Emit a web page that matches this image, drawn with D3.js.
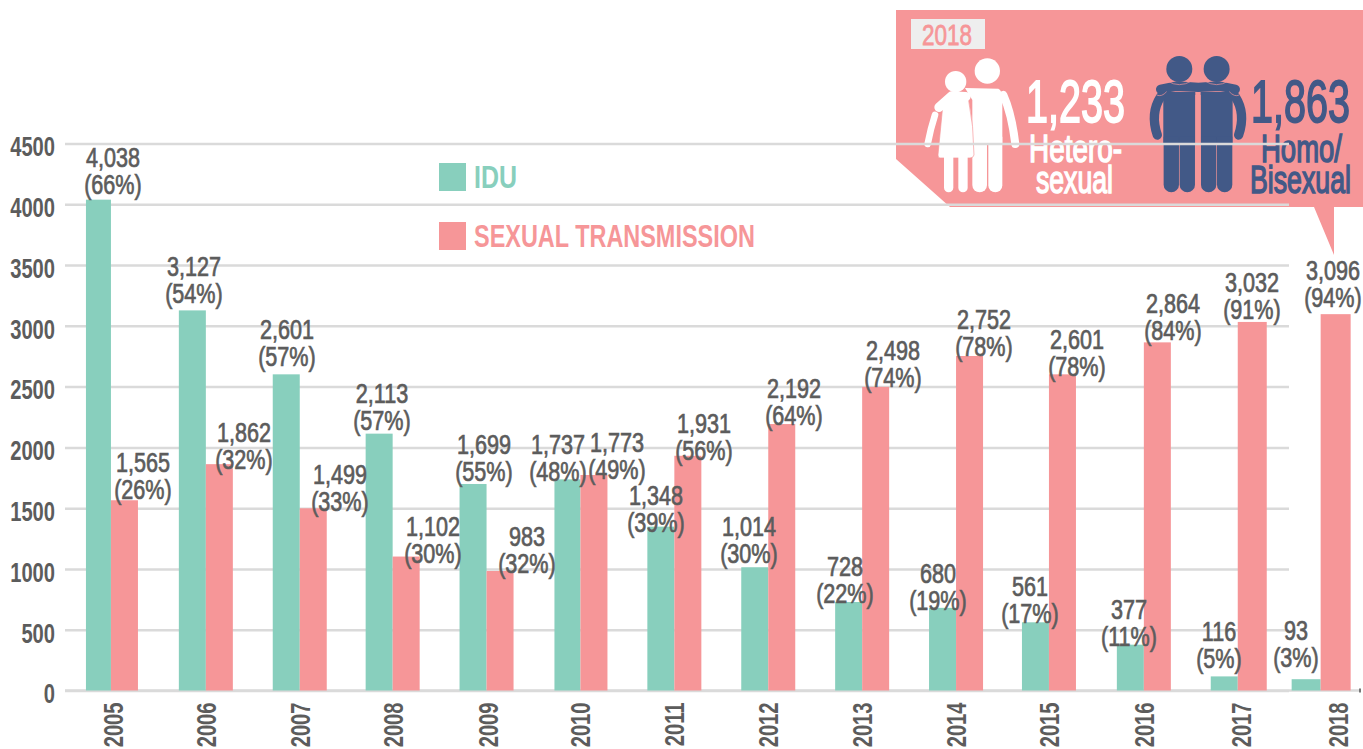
<!DOCTYPE html>
<html>
<head>
<meta charset="utf-8">
<script src="https://cdn.jsdelivr.net/npm/d3@7"></script>
<style>
  html, body { margin: 0; padding: 0; background: #fff; }
  svg { display: block; }
  text { font-family: "Liberation Sans", sans-serif; }
</style>
</head>
<body>
<svg id="chart" width="1363" height="749"></svg>
<script>
const years = ["2005","2006","2007","2008","2009","2010","2011","2012","2013","2014","2015","2016","2017","2018"];
const idu = [4038,3127,2601,2113,1699,1737,1348,1014,728,680,561,377,116,93];
const iduPct = [66,54,57,57,55,48,39,30,22,19,17,11,5,3];
const sexual = [1565,1862,1499,1102,983,1773,1931,2192,2498,2752,2601,2864,3032,3096];
const sexualPct = [26,32,33,30,32,49,56,64,74,78,78,84,91,94];
const yTicks = [0,500,1000,1500,2000,2500,3000,3500,4000,4500];
const seriesNames = ["IDU","SEXUAL TRANSMISSION"];

const TEAL = "#88cfbd", PINK = "#f69698", BLUE = "#425987", GREY = "#5c5c5c", GRID = "#dadada";

// hand placed label centres in the original, given as nudges from the bar centre / bar top
const iduNudgeX = [15.5,1.6,0.7,2.8,10.9,-9,-4.9,-5.8,-3.7,-4.6,-5.5,-1.4,-5.3,-11.2];
const iduNudgeY = [-3,-4,-5,-1,0,5,8,-1,4,5,4,4,-5,-9];
const sexNudgeX = [18.5,24.6,26.7,26.8,26.9,23,16.1,12.2,17.3,14.4,14.5,15.6,0.7,-1.2];
const sexNudgeY = [2,8,6,9,5,7,7,4,3,3,5,1,0,-4];
// the groups drift a little from the regular step, the last one most
const groupShift = [0,1,1,0,0,0,0,0,0,0,-1,0,0,-11];
const iduExtra = [-2,0,0,0,0,-1,0,0,0,0,0,0,0,2];
const sexExtra = [0,0,0,0,0,0,0,0,0,0,0,0,2,3];
const tickShift = [2,1,1,0,1,0,0,0,0,0,-1,0,3,6];

const svg = d3.select("#chart");
const y = d3.scaleLinear().domain([0,4500]).range([690.5,143.5]);
const x = d3.scaleBand().domain(years).range([64,1378.6]);
const bw = 27;

function center(i){ return x(years[i]) + x.bandwidth()/2 + groupShift[i]; }

// callout panel
svg.append("path")
    .attr("fill", PINK)
    .attr("d", "M896,10 L1363,10 L1363,207 L1334,207 L1334,255 L1314,207 L950,207 L896,159 Z");
svg.append("rect").attr("x",911).attr("y",19).attr("width",74).attr("height",30).attr("fill","#eeeeee");

// squeeze a text to the wanted width, there is no condensed face to use here
function fitted(sel, str, xpos, ypos, size, width, fill, weight, bold){
  const t = sel.append("text")
      .attr("font-size", size).attr("fill", fill)
      .attr("font-weight", bold ? "bold" : "normal")
      .attr("stroke", fill).attr("stroke-width", weight)
      .text(str);
  const natural = t.node().getComputedTextLength();
  t.attr("transform", `translate(${xpos},${ypos}) scale(${width/natural},1)`);
  return t;
}
fitted(svg,"2018",922,45,30,50,PINK,0.8);
fitted(svg,"1,233",1026,122,59,99,"#fff",1.8);
fitted(svg,"Hetero-",1029,162,39,93,"#fff",1.5);
fitted(svg,"sexual",1036,193,39,77,"#fff",1.5);
fitted(svg,"1,863",1251,122,59,99,BLUE,1.8);
fitted(svg,"Homo/",1261,162,39,81,BLUE,1.5);
fitted(svg,"Bisexual",1250,193,39,101,BLUE,1.5);

// people icons, sketched in 3x crop units
const icons = svg.append("g").attr("transform","translate(890,0) scale(0.3333)");

function leg(g, x0, x1, top, bottom, fill){
  const r = (x1-x0)/2;
  g.append("path").attr("fill",fill)
      .attr("d",`M${x0},${top} L${x1},${top} L${x1},${bottom-r} A${r},${r} 0 0 1 ${x0},${bottom-r} Z`);
}
function limb(g, d, w, col){
  g.append("path").attr("d",d).attr("fill","none").attr("stroke",col)
      .attr("stroke-width",w).attr("stroke-linecap","round").attr("stroke-linejoin","round");
}

const white = icons.append("g");
white.append("circle").attr("cx",292).attr("cy",213).attr("r",38).attr("fill","#fff");
white.append("path").attr("fill","#fff")
    .attr("d","M225,264 L325,266 Q337,270 337,300 L337,430 L247,430 L247,300 Z");
leg(white,247,291,410,577,"#fff");
leg(white,295,337,410,577,"#fff");
limb(white,"M340,285 Q365,340 376,432",24,"#fff");
white.append("circle").attr("cx",197).attr("cy",245).attr("r",32).attr("fill","#fff");
white.append("path").attr("fill","#fff").attr("stroke",PINK).attr("stroke-width",2)
    .attr("d","M160,300 Q200,270 235,295 Q252,380 252,465 Q250,474 240,474 L150,474 Q144,474 144,465 Z");
leg(white,162,190,470,577,"#fff");
leg(white,205,233,470,577,"#fff");
limb(white,"M135,345 Q122,385 113,432",20,"#fff");
limb(white,"M147,322 L185,288 L228,290",28,"#fff");

const blue = icons.append("g");
[868,980].forEach(cx => {
  blue.append("circle").attr("cx",cx).attr("cy",207).attr("r",39).attr("fill",BLUE);
  blue.append("path").attr("fill",BLUE).attr("d",`M${cx-48},275 L${cx+48},275 L${cx+48},430 L${cx-48},430 Z`);
  leg(blue,cx-47,cx-1,410,577,BLUE);
  leg(blue,cx+1,cx+47,410,577,BLUE);
});
limb(blue,"M812,268 L860,258 L925,262 L988,258 L1036,268",28,BLUE);
limb(blue,"M812,290 Q780,340 802,405",28,BLUE);
limb(blue,"M1036,290 Q1068,340 1046,405",28,BLUE);
blue.append("path").attr("fill","none").attr("stroke",PINK).attr("stroke-width",2)
    .attr("d","M832,243 Q868,265 905,243 M944,243 Q980,265 1016,243 M800,285 Q815,292 830,275 M1048,285 Q1033,292 1018,275");
blue.append("rect").attr("x",916).attr("y",285).attr("width",16).attr("height",295).attr("fill",PINK);

// y axis with gridlines
const yAxis = svg.append("g")
    .attr("transform","translate(1289,0)")
    .call(d3.axisLeft(y).tickValues(yTicks).tickSize(1224).tickPadding(10).tickFormat(d3.format("d")));
yAxis.select(".domain").remove();
yAxis.selectAll(".tick line").attr("stroke",GRID).attr("stroke-width",2.5);
yAxis.selectAll(".tick text")
    .attr("font-size",28).attr("font-weight","bold").attr("fill",GREY)
    .attr("text-anchor","end")
    .attr("x",0).attr("dy","0.44em")
    .attr("transform","translate(-1234,0) scale(0.72,1)");

// baseline and x axis
svg.append("line").attr("x1",65).attr("x2",1361).attr("y1",y(0)).attr("y2",y(0))
    .attr("stroke",GRID).attr("stroke-width",2.5);
svg.append("line").attr("x1",1360).attr("x2",1360).attr("y1",y(0)-2).attr("y2",y(0)+2)
    .attr("stroke","#777").attr("stroke-width",2);

const xAxis = svg.append("g")
    .attr("transform",`translate(0,${y(0)})`)
    .call(d3.axisBottom(x).tickSize(0));
xAxis.select(".domain").remove();
xAxis.selectAll(".tick").each(function(d,i){
  d3.select(this).select("text")
      .attr("font-size",28).attr("font-weight","bold").attr("fill",GREY)
      .attr("text-anchor","end").attr("y",0).attr("x",0).attr("dy",0)
      .attr("transform",`translate(${tickShift[i]+10},12) rotate(-90) scale(0.72,1)`);
});

// bars
const rows = years.map((yr,i) => ({i, yr}));
svg.append("g").selectAll("rect").data(rows).join("rect")
    .attr("x", d => center(d.i) - bw - iduExtra[d.i])
    .attr("y", d => y(idu[d.i]))
    .attr("width", d => bw + iduExtra[d.i])
    .attr("height", d => y(0) - y(idu[d.i]))
    .attr("fill", TEAL);
svg.append("g").selectAll("rect").data(rows).join("rect")
    .attr("x", d => center(d.i))
    .attr("y", d => y(sexual[d.i]))
    .attr("width", d => bw + sexExtra[d.i])
    .attr("height", d => y(0) - y(sexual[d.i]))
    .attr("fill", PINK);

// value labels
function labels(values, pct, nudgeX, nudgeY, offset){
  const g = svg.append("g").selectAll("g").data(rows).join("g")
      .attr("transform", d => `translate(${center(d.i)+offset+nudgeX[d.i]},${y(values[d.i])-3+nudgeY[d.i]}) scale(0.8,1)`)
      .attr("text-anchor","middle")
      .attr("fill",GREY).attr("stroke",GREY).attr("stroke-width",0.7)
      .attr("font-size",27);
  g.append("text").attr("y",-27).text(d => d3.format(",")(values[d.i]));
  g.append("text").attr("y",0).text(d => "(" + pct[d.i] + "%)");
}
labels(idu, iduPct, iduNudgeX, iduNudgeY, -bw/2);
labels(sexual, sexualPct, sexNudgeX, sexNudgeY, bw/2);

// legend
const legend = svg.append("g");
[[TEAL,163],[PINK,222]].forEach((c,i) => {
  legend.append("rect").attr("x",439).attr("y",c[1]).attr("width",27).attr("height",28).attr("fill",c[0]);
});
fitted(legend,seriesNames[0],474,188,31,43,TEAL,0,true);
fitted(legend,seriesNames[1],474,247,31,281,PINK,0,true);
</script>
</body>
</html>
